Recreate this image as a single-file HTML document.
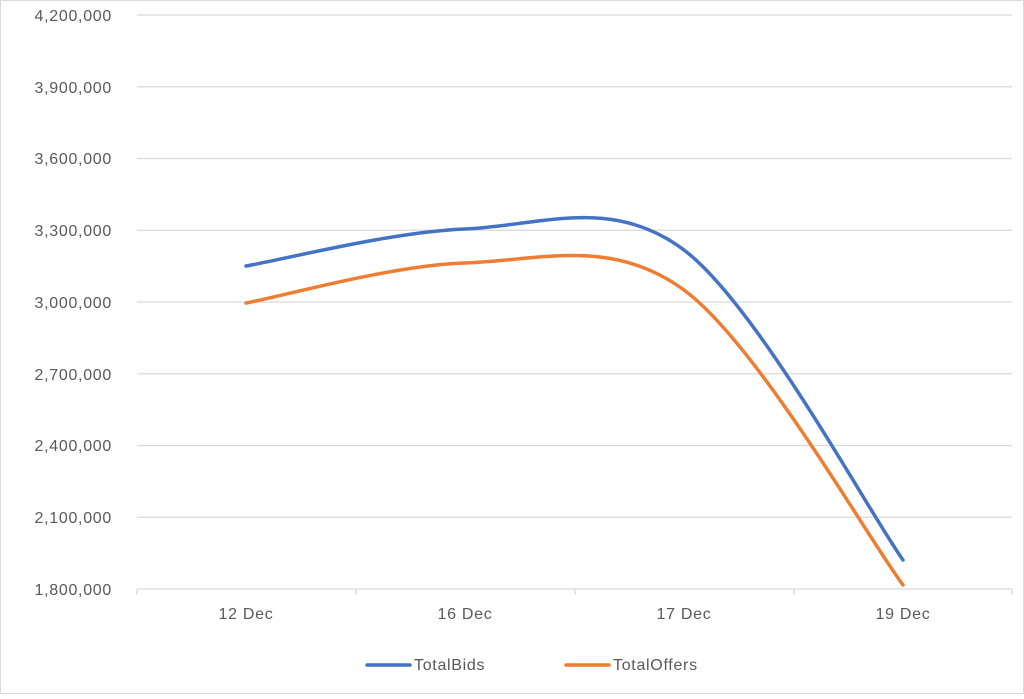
<!DOCTYPE html>
<html><head><style>
body{margin:0;background:#fff}
svg text{font-family:"Liberation Sans",sans-serif;fill:#595959;font-size:16px;letter-spacing:0.7px}
</style></head><body>
<svg width="1024" height="694" viewBox="0 0 1024 694">
<rect x="0.5" y="0.5" width="1023" height="693" fill="#fff" stroke="#d9d9d9"/>
<g stroke="#d9d9d9" stroke-width="1.3">
<line x1="137" x2="1012" y1="15" y2="15"/>
<line x1="137" x2="1012" y1="86.75" y2="86.75"/>
<line x1="137" x2="1012" y1="158.5" y2="158.5"/>
<line x1="137" x2="1012" y1="230.25" y2="230.25"/>
<line x1="137" x2="1012" y1="302" y2="302"/>
<line x1="137" x2="1012" y1="373.75" y2="373.75"/>
<line x1="137" x2="1012" y1="445.5" y2="445.5"/>
<line x1="137" x2="1012" y1="517.25" y2="517.25"/>
<line x1="137" x2="1012" y1="589" y2="589"/>
<line x1="137" x2="137" y1="589" y2="595"/>
<line x1="356" x2="356" y1="589" y2="595"/>
<line x1="575" x2="575" y1="589" y2="595"/>
<line x1="794" x2="794" y1="589" y2="595"/>
<line x1="1012" x2="1012" y1="589" y2="595"/>
</g>
<g text-anchor="end">
<text x="112" y="21">4,200,000</text>
<text x="112" y="93">3,900,000</text>
<text x="112" y="164">3,600,000</text>
<text x="112" y="236">3,300,000</text>
<text x="112" y="308">3,000,000</text>
<text x="112" y="380">2,700,000</text>
<text x="112" y="451">2,400,000</text>
<text x="112" y="523">2,100,000</text>
<text x="112" y="595">1,800,000</text>
</g>
<g text-anchor="middle">
<text x="246" y="619">12 Dec</text>
<text x="465" y="619">16 Dec</text>
<text x="684" y="619">17 Dec</text>
<text x="903" y="619">19 Dec</text>
</g>
<path d="M246,266 C282.5,259.8 392,231.7 465,229 C538,226.3 611,194.8 684,250 C757,305.2 866.5,508.3 903,560" fill="none" stroke="#4472c4" stroke-width="3.5" stroke-linecap="round"/>
<path d="M246,303 C282.5,296.3 392,265.2 465,263 C538,260.8 611,236.3 684,290 C757,343.7 866.5,535.8 903,585" fill="none" stroke="#ed7d31" stroke-width="3.5" stroke-linecap="round"/>
<line x1="367" x2="410" y1="665" y2="665" stroke="#4472c4" stroke-width="3.5" stroke-linecap="round"/>
<text x="414" y="670">TotalBids</text>
<line x1="566" x2="609" y1="665" y2="665" stroke="#ed7d31" stroke-width="3.5" stroke-linecap="round"/>
<text x="613" y="670">TotalOffers</text>
</svg>
</body></html>
